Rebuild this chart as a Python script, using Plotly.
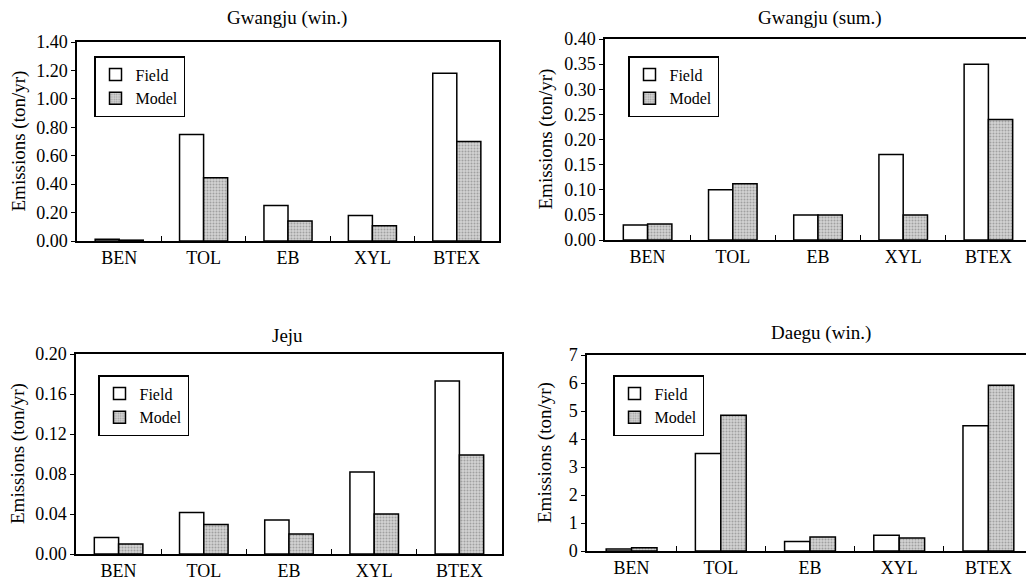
import plotly.graph_objects as go

categories = ["BEN", "TOL", "EB", "XYL", "BTEX"]

titles = ["Gwangju (win.)", "Gwangju (sum.)", "Jeju", "Daegu (win.)"]

field_gwangju_win = [0.012, 0.75, 0.25, 0.18, 1.18]
model_gwangju_win = [0.006, 0.445, 0.14, 0.108, 0.70]

field_gwangju_sum = [0.03, 0.10, 0.05, 0.17, 0.35]
model_gwangju_sum = [0.032, 0.112, 0.05, 0.05, 0.24]

field_jeju = [0.0165, 0.0415, 0.034, 0.082, 0.173]
model_jeju = [0.010, 0.0295, 0.020, 0.040, 0.099]

field_daegu_win = [0.07, 3.48, 0.34, 0.56, 4.47]
model_daegu_win = [0.12, 4.85, 0.50, 0.46, 5.92]

y_ranges = [[0, 1.40], [0, 0.40], [0, 0.20], [0, 7]]
y_dticks = [0.20, 0.05, 0.04, 1]
y_formats = [".2f", ".2f", ".2f", "d"]

panels = [
    (field_gwangju_win, model_gwangju_win),
    (field_gwangju_sum, model_gwangju_sum),
    (field_jeju, model_jeju),
    (field_daegu_win, model_daegu_win),
]

OFF = 8  # page body margin
W, H = 1034 - OFF, 582 - OFF
# plot-area pixel boxes in window coords (left, right, top, bottom)
boxes = [(77, 499, 42, 241), (605, 1031, 39, 240), (76, 502, 354, 554), (587, 1033, 355, 551)]
title_pos = [(287, 18), (819, 18), (287, 335), (821, 333)]
legend_pos = [(94, 56), (628, 56), (98, 375), (613, 375)]
ytitle_x = [18, 546, 18, 545]


def px(x):
    return (x - OFF) / W


def py(y):
    return 1 - (y - OFF) / H


FONT = "Liberation Serif"
fig = go.Figure()

for i, (fv, mv) in enumerate(panels):
    n = "" if i == 0 else str(i + 1)
    lg = "legend" if i == 0 else "legend" + str(i + 1)
    fig.add_trace(go.Bar(
        x=categories, y=fv, name="Field", xaxis="x" + n, yaxis="y" + n, legend=lg,
        marker=dict(color="white", line=dict(color="black", width=1.5)),
    ))
    fig.add_trace(go.Bar(
        x=categories, y=mv, name="Model", xaxis="x" + n, yaxis="y" + n, legend=lg,
        marker=dict(color="#bdbdbd", line=dict(color="black", width=1.5),
                    pattern=dict(shape=".", fgcolor="#6e6e6e", bgcolor="#d2d2d2",
                                 size=3, solidity=0.35)),
    ))
    l, r, t, b = boxes[i]
    xa = dict(domain=[px(l), px(r)], anchor="y" + n, type="category", automargin=False,
              showline=True, linecolor="black", linewidth=1.5, mirror=True,
              ticks="inside", tickson="boundaries", ticklen=5, tickcolor="black",
              tickfont=dict(family=FONT, size=18, color="black"), showgrid=False)
    ya = dict(domain=[py(b), py(t)], anchor="x" + n, range=y_ranges[i],
              automargin=False,
              dtick=y_dticks[i], tick0=0, tickformat=y_formats[i],
              showline=True, linecolor="black", linewidth=1.5, mirror=True,
              ticks="outside", ticklen=4, tickcolor="black", showgrid=False,
              zeroline=False,
              tickfont=dict(family=FONT, size=18, color="black"))
    fig.update_layout({"xaxis" + n: xa, "yaxis" + n: ya})
    fig.add_annotation(text="Emissions (ton/yr)", textangle=-90,
                       x=px(ytitle_x[i]), y=py((t + b) / 2), xref="paper", yref="paper",
                       showarrow=False, xanchor="center", yanchor="middle",
                       font=dict(family=FONT, size=19, color="black"))
    lx, ly = legend_pos[i]
    fig.update_layout({lg: dict(x=px(lx), y=py(ly), xref="paper", yref="paper",
                                xanchor="left", yanchor="top",
                                bgcolor="white", bordercolor="black", borderwidth=1.5,
                                font=dict(family=FONT, size=16, color="black"),
                                itemwidth=30, tracegroupgap=0)})
    tx, ty = title_pos[i]
    fig.add_annotation(text=titles[i], x=px(tx), y=py(ty), xref="paper", yref="paper",
                       showarrow=False, xanchor="center", yanchor="middle",
                       font=dict(family=FONT, size=19, color="black"))

fig.update_layout(
    width=W, height=H, margin=dict(l=0, r=0, t=0, b=0, autoexpand=False),
    paper_bgcolor="white", plot_bgcolor="white",
    barmode="group", bargap=0.43, bargroupgap=0,
    font=dict(family=FONT, color="black"),
)

fig.write_html("out.html")
